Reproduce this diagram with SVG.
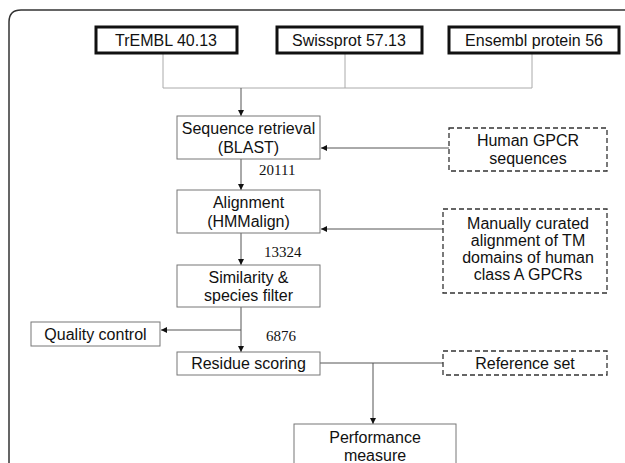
<svg xmlns="http://www.w3.org/2000/svg" width="625" height="463" viewBox="0 0 625 463">
<defs>
<marker id="ah" markerWidth="6" markerHeight="6" refX="6" refY="3" orient="auto" markerUnits="userSpaceOnUse">
<path d="M0,0 L6,3 L0,6 Z" fill="#111"/>
</marker>
<style>
text{font-family:"Liberation Sans",Arial,sans-serif;font-size:16px;fill:#111;text-anchor:middle}
.num{font-family:"Liberation Serif","Times New Roman",serif;font-size:15px;text-anchor:start}
.src{fill:#fff;stroke:#111;stroke-width:3}
.box{fill:#fff;stroke:#777;stroke-width:1}
.dash{fill:#fff;stroke:#333;stroke-width:1.3;stroke-dasharray:5,3}
.gl{fill:none;stroke:#aaa;stroke-width:1}
.cl{fill:none;stroke:#555;stroke-width:1}
</style>
</defs>
<rect width="625" height="463" fill="#fff"/>
<path d="M9,463 V22 Q9,10 21,10 H625" fill="none" stroke="#333" stroke-width="1.5"/>
<g id="connectors">
<path class="gl" d="M163,53 V88 M345,53 V88 M532,53 V88 M163,88 H532"/>
<path class="cl" d="M241,88 V116" marker-end="url(#ah)"/>
<path class="cl" d="M449,148 H321" marker-end="url(#ah)"/>
<path class="cl" d="M241,159 V190" marker-end="url(#ah)"/>
<path class="cl" d="M443,229 H321" marker-end="url(#ah)"/>
<path class="cl" d="M241,233 V265" marker-end="url(#ah)"/>
<path class="cl" d="M241,307 V352" marker-end="url(#ah)"/>
<path class="cl" d="M241,330 H161" marker-end="url(#ah)"/>
<path class="cl" d="M320,363 H443 M373,363 V424" marker-end="url(#ah)"/>
</g>
<g id="trembl"><rect class="src" x="96" y="27" width="141" height="26"/><text x="166" y="46">TrEMBL 40.13</text></g>
<g id="swissprot"><rect class="src" x="277" y="27" width="145" height="26"/><text x="349" y="46">Swissprot 57.13</text></g>
<g id="ensembl"><rect class="src" x="449" y="27" width="170" height="26"/><text x="534" y="46">Ensembl protein 56</text></g>
<g id="seqret"><rect class="box" x="177" y="116" width="143" height="43"/><text x="248.5" y="134">Sequence retrieval</text><text x="248.5" y="153">(BLAST)</text></g>
<g id="human"><rect class="dash" x="449" y="128" width="158" height="43"/><text x="528" y="146">Human GPCR</text><text x="528" y="164">sequences</text></g>
<g id="l20111"><text class="num" x="259" y="175">20111</text></g>
<g id="align"><rect class="box" x="177" y="190" width="143" height="43"/><text x="248.5" y="208">Alignment</text><text x="248.5" y="227">(HMMalign)</text></g>
<g id="manual"><rect class="dash" x="443" y="209" width="164" height="84"/><text x="528" y="229">Manually curated</text><text x="528" y="246">alignment of TM</text><text x="528" y="263">domains of human</text><text x="528" y="280">class A GPCRs</text></g>
<g id="l13324"><text class="num" x="264" y="257">13324</text></g>
<g id="simil"><rect class="box" x="177" y="265" width="143" height="42"/><text x="248.5" y="283">Similarity &amp;</text><text x="248.5" y="301">species filter</text></g>
<g id="qc"><rect class="box" x="31" y="322" width="129" height="24"/><text x="95.5" y="340">Quality control</text></g>
<g id="l6876"><text class="num" x="266" y="341">6876</text></g>
<g id="residue"><rect class="box" x="177" y="352" width="143" height="23"/><text x="248.5" y="369">Residue scoring</text></g>
<g id="refset"><rect class="dash" x="443" y="351" width="164" height="24"/><text x="525" y="369">Reference set</text></g>
<g id="perf"><rect class="box" x="294" y="424" width="162" height="50"/><text x="375" y="443">Performance</text><text x="375" y="461">measure</text></g>
</svg>
